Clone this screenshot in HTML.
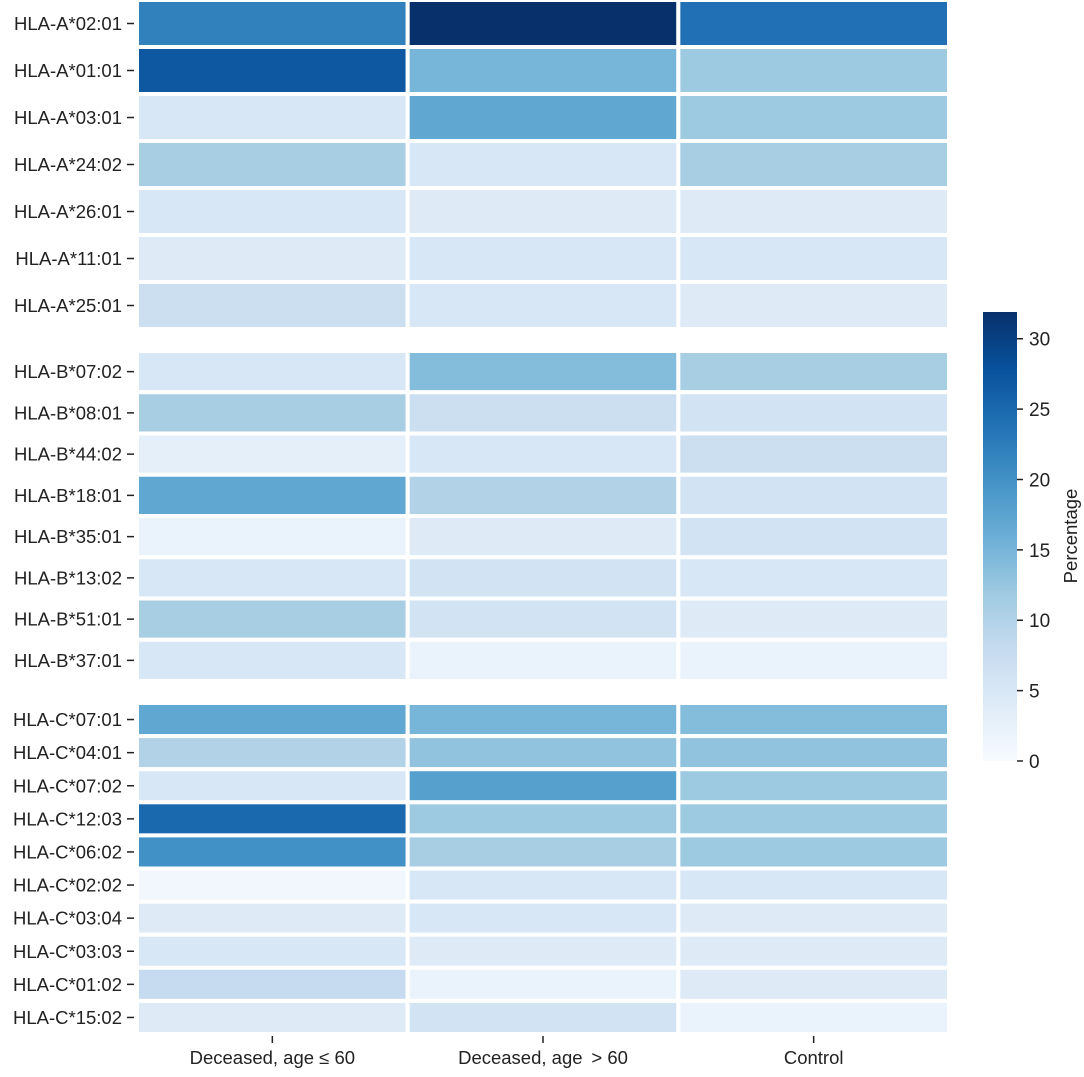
<!DOCTYPE html>
<html><head><meta charset="utf-8"><style>
body{margin:0;background:#fff;}
svg text{font-family:"Liberation Sans",Arial,sans-serif;fill:#222;}
</style></head><body>
<svg id="chart" width="1084" height="1072" xmlns="http://www.w3.org/2000/svg"></svg>
<script>
const groups = [
  ["HLA-A*02:01","HLA-A*01:01","HLA-A*03:01","HLA-A*24:02","HLA-A*26:01","HLA-A*11:01","HLA-A*25:01"],
  ["HLA-B*07:02","HLA-B*08:01","HLA-B*44:02","HLA-B*18:01","HLA-B*35:01","HLA-B*13:02","HLA-B*51:01","HLA-B*37:01"],
  ["HLA-C*07:01","HLA-C*04:01","HLA-C*07:02","HLA-C*12:03","HLA-C*06:02","HLA-C*02:02","HLA-C*03:04","HLA-C*03:03","HLA-C*01:02","HLA-C*15:02"]
];
const columns = ["Deceased, age \u2264 60","Deceased, age \u2009> 60","Control"];
const valuesA = [[22,32,24],[27,15,12],[5,17,12],[11,5,11],[5,4,4],[4,5,5],[7,5,4]];
const valuesB = [[5,14,11],[11,7,6],[3,5,7],[17,10,6],[2,4,6],[5,6,5],[11,6,4],[5,2,2]];
const valuesC = [[17,15,14],[10,13,13],[5,18,12],[25,12,12],[20,11,12],[1,5,5],[4,5,4],[5,4,4],[8,2,4],[4,6,2]];
const cbTicks = [0,5,10,15,20,25,30];
const vmin = 0, vmax = 31.9;

const stops = ["#f7fbff","#deebf7","#c6dbef","#9ecae1","#6baed6","#4292c6","#2171b5","#08519c","#08306b"];
function hex(h){return [1,3,5].map(i=>parseInt(h.substr(i,2),16));}
function color(v){
  let t=Math.max(0,Math.min(1,(v-vmin)/(vmax-vmin)))*(stops.length-1);
  let i=Math.min(stops.length-2,Math.floor(t)),f=t-i;
  let a=hex(stops[i]),b=hex(stops[i+1]);
  return "rgb("+a.map((x,k)=>Math.round(x+(b[k]-x)*f)).join(",")+")";
}
const NS="http://www.w3.org/2000/svg";
const svg=document.getElementById("chart");
function mk(tag,attrs,parent){const e=document.createElementNS(NS,tag);for(const k in attrs)e.setAttribute(k,attrs[k]);(parent||svg).appendChild(e);return e;}

const panels=[{vals:valuesA,y0:0,y1:329},{vals:valuesB,y0:351,y1:681},{vals:valuesC,y0:703,y1:1034}];
const x0=137,x1=949;
const cw=(x1-x0)/columns.length;
panels.forEach((p,gi)=>{
  const rh=(p.y1-p.y0)/p.vals.length;
  p.vals.forEach((row,ri)=>{
    const y=p.y0+ri*rh;
    row.forEach((v,ci)=>{
      const r=mk("rect",{x:x0+ci*cw,y:y,width:cw,height:rh,fill:color(v),stroke:"#fff","stroke-width":4});
      
      
    });
    const cy=y+rh/2;
    const tk=mk("line",{x1:127,x2:134,y1:cy,y2:cy,stroke:"#222","stroke-width":1.5});
    
    
    const t=mk("text",{x:122,y:cy+6.5,"text-anchor":"end","font-size":18.5});
    t.textContent=groups[gi][ri];
    
    
  });
});
columns.forEach((c,ci)=>{
  const cx=x0+ci*cw+cw/2;
  const tk=mk("line",{x1:cx,x2:cx,y1:1036,y2:1043,stroke:"#222","stroke-width":1.5});
  
  
  const t=mk("text",{x:cx,y:1064,"text-anchor":"middle","font-size":18.5});
  t.textContent=c;
  
  
});
const cbx=983,cbw=34,cbTop=312,cbBot=761;
const defs=mk("defs",{});
const g=mk("linearGradient",{id:"cbg",x1:0,y1:1,x2:0,y2:0},defs);
stops.forEach((s,i)=>mk("stop",{offset:(i/(stops.length-1)),"stop-color":s},g));
const cb=mk("rect",{x:cbx,y:cbTop,width:cbw,height:cbBot-cbTop,fill:"url(#cbg)"});


const cbY=v=>cbBot-(v-vmin)/(vmax-vmin)*(cbBot-cbTop);
cbTicks.forEach(v=>{
  const y=cbY(v);
  const tk=mk("line",{x1:cbx+cbw,x2:cbx+cbw+6,y1:y,y2:y,stroke:"#222","stroke-width":1.5});
  
  
  const t=mk("text",{x:cbx+cbw+12,y:y+7,"font-size":19});
  t.textContent=v;
  
  
});
const ct=mk("text",{x:0,y:0,"font-size":18.5,"text-anchor":"middle",transform:"translate(1077,536) rotate(-90)"});
ct.textContent="Percentage";


</script>
</body></html>
